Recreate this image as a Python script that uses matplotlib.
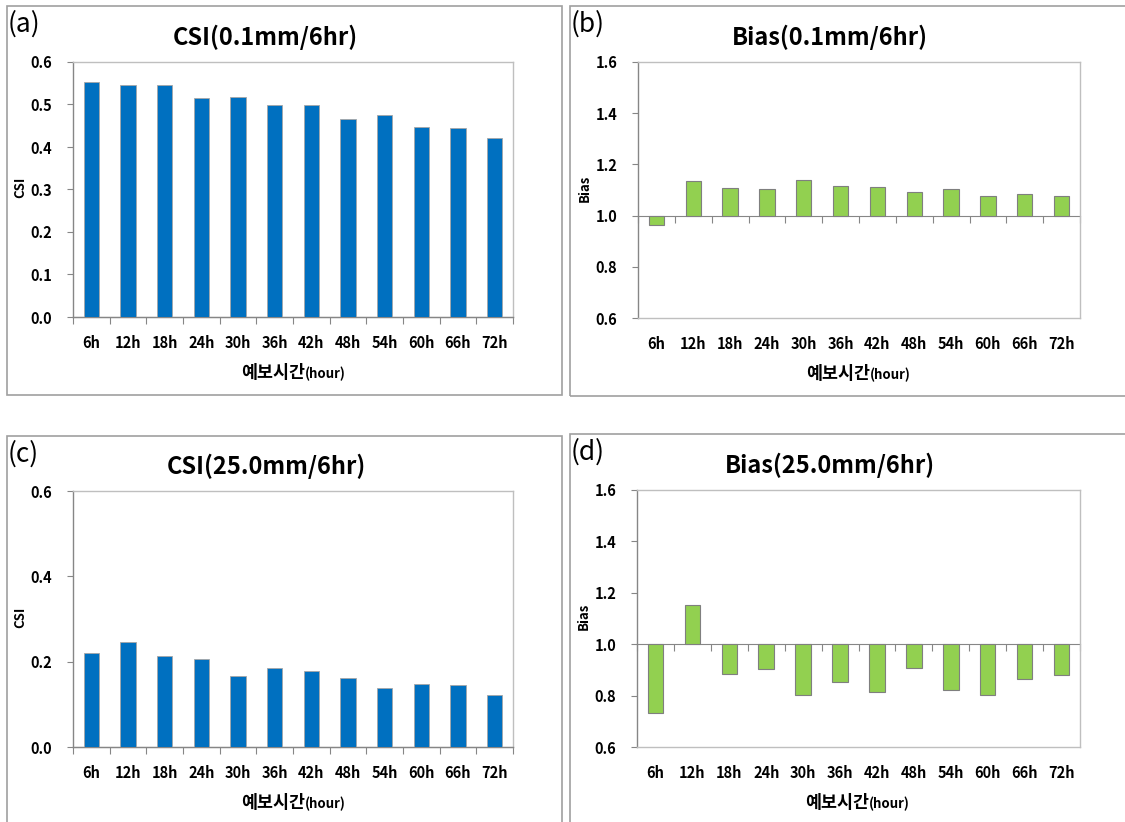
import numpy as np
import matplotlib
matplotlib.use('Agg')
import matplotlib.pyplot as plt
from matplotlib.patches import Rectangle

plt.rcParams['font.family'] = ['Noto Sans CJK KR', 'DejaVu Sans']

# data
hours = ['6h', '12h', '18h', '24h', '30h', '36h', '42h', '48h', '54h', '60h', '66h', '72h']
csi_01 = [0.552, 0.547, 0.547, 0.515, 0.518, 0.499, 0.499, 0.467, 0.476, 0.446, 0.444, 0.420]
bias_01 = [0.964, 1.135, 1.109, 1.103, 1.139, 1.114, 1.110, 1.094, 1.105, 1.078, 1.086, 1.075]
csi_25 = [0.221, 0.246, 0.213, 0.206, 0.166, 0.184, 0.179, 0.162, 0.138, 0.148, 0.145, 0.122]
bias_25 = [0.732, 1.151, 0.884, 0.905, 0.801, 0.854, 0.815, 0.908, 0.823, 0.801, 0.863, 0.882]

BLUE = '#0070C0'
GREEN = '#92D050'
W, H = 1125, 822

fig = plt.figure(figsize=(W / 100, H / 100), dpi=100)


def px_box(l, t, r, b):
    return [l / W, 1 - b / H, (r - l) / W, (b - t) / H]


def panel(box, vals, ylim, yticks, ylab, color, base, title, letter, frame, tx):
    ax = fig.add_axes(px_box(*box))
    x = np.arange(len(hours))
    if base is None:
        ax.bar(x, vals, width=0.42, color=color, edgecolor='#A6A6A6', linewidth=0.6, zorder=3)
    else:
        ax.bar(x, np.array(vals) - base, bottom=base, width=0.42, color=color,
               edgecolor='#7F7F7F', linewidth=0.8, zorder=3)
    ax.set_xlim(-0.5, len(hours) - 0.5)
    ax.set_ylim(*ylim)
    ax.set_yticks(yticks)
    ax.set_yticklabels(['%.1f' % v for v in yticks], fontsize=10.5, fontweight='bold')
    ax.set_xticks(x)
    ax.set_xticklabels(hours, fontsize=10.5, fontweight='bold')
    ax.tick_params(axis='x', length=0, pad=13)
    ax.tick_params(axis='y', length=4, color='#868686', pad=11)
    for s in ['top', 'right']:
        ax.spines[s].set_color('#BFBFBF')
    ax.spines['left'].set_color('#868686')
    bounds = np.arange(len(hours) + 1) - 0.5
    if base is None:
        ax.spines['bottom'].set_color('#868686')
        loc = 0.0
    else:
        ax.spines['bottom'].set_color('#BFBFBF')
        loc = (base - ylim[0]) / (ylim[1] - ylim[0])
    sec = ax.secondary_xaxis(loc)
    sec.set_xticks(bounds)
    sec.set_xticklabels([])
    sec.tick_params(length=5, color='#868686', width=0.8)
    sec.spines['bottom'].set_color('#868686')
    for lw in ax.spines.values():
        lw.set_linewidth(1.0)

    l, t, r, b = box
    fig.text(tx / W, 1 - (t - 25) / H, title, fontsize=17, fontweight='bold',
             ha='center', va='center')
    fig.text((l - 53) / W, 1 - ((t + b) / 2 - 2) / H, ylab, rotation=90,
             fontsize=9.5, fontweight='bold', ha='center', va='center')
    xl = l + 232
    fig.text(xl / W, 1 - (b + 61) / H, '예보시간', fontsize=12.5, fontweight='bold',
             ha='right', va='baseline')
    fig.text(xl / W, 1 - (b + 61) / H, '(hour)', fontsize=9.5, fontweight='bold',
             ha='left', va='baseline')
    fl, ft, fr, fb = frame
    fig.patches.append(Rectangle((fl / W, 1 - fb / H), (fr - fl) / W, (fb - ft) / H,
                                 transform=fig.transFigure, fill=False,
                                 edgecolor='#A0A0A0', linewidth=1.2))
    fig.text((fl + 1) / W, 1 - (ft + 18) / H, letter, fontsize=19, ha='left', va='center')
    return ax


panel((73, 62, 513, 317), csi_01, (0, 0.6), [0, 0.1, 0.2, 0.3, 0.4, 0.5, 0.6], 'CSI',
      BLUE, None, 'CSI(0.1mm/6hr)', '(a)', (7, 6, 562, 395), 265)
panel((638, 62, 1080, 318), bias_01, (0.6, 1.6), [0.6, 0.8, 1.0, 1.2, 1.4, 1.6], 'Bias',
      GREEN, 1.0, 'Bias(0.1mm/6hr)', '(b)', (570, 6, 1130, 396), 830)
panel((73, 491, 513, 747), csi_25, (0, 0.6), [0, 0.2, 0.4, 0.6], 'CSI',
      BLUE, None, 'CSI(25.0mm/6hr)', '(c)', (7, 436, 562, 830), 266)
panel((637, 490, 1080, 747), bias_25, (0.6, 1.6), [0.6, 0.8, 1.0, 1.2, 1.4, 1.6], 'Bias',
      GREEN, 1.0, 'Bias(25.0mm/6hr)', '(d)', (570, 434, 1130, 830), 830)

fig.savefig('out.png', dpi=100)
